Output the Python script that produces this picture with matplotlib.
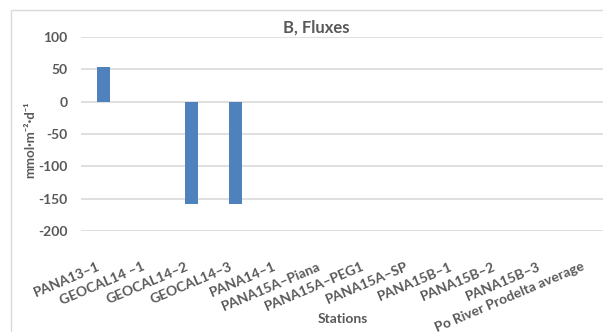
import numpy as np
import matplotlib
matplotlib.use("Agg")
import matplotlib.pyplot as plt
import matplotlib.transforms as mtransforms
from matplotlib.patches import Rectangle

plt.rcParams["font.family"] = ["Lato", "DejaVu Sans"]

# Fluxes per station (blank = no measurement)
stations = ["PANA13\u20131", "GEOCAL14 \u20131", "GEOCAL14\u20132", "GEOCAL14\u20133",
            "PANA14\u20131", "PANA15A\u2013Piana", "PANA15A\u2013PEG1", "PANA15A\u2013SP",
            "PANA15B\u20131", "PANA15B\u20132", "PANA15B\u20133", "Po River Prodelta average"]
fluxes = [54, np.nan, -158, -158, np.nan, np.nan, np.nan, np.nan,
          np.nan, np.nan, np.nan, np.nan]
yticks = [-200, -150, -100, -50, 0, 50, 100]

TXT = "#595959"
GRID = "#d9d9d9"
BAR = "#4F81BD"

W, H = 603, 332
fig = plt.figure(figsize=(W / 100, H / 100), dpi=100)

# chart frame (left and top edges visible)
fig.patches.append(Rectangle((11 / W, -0.1), 1.2, 1 - 10 / H + 0.1,
                             transform=fig.transFigure, fill=False,
                             edgecolor=GRID, linewidth=1))

left, right = 81.3 / W, 609 / W
top, bottom = 1 - 37 / H, 1 - 231 / H
ax = fig.add_axes([left, bottom, right - left, top - bottom])

x = np.arange(len(stations))
ax.bar(x, fluxes, width=0.3, color=BAR, zorder=3)

ax.set_xlim(-0.5, len(stations) - 0.5)
ax.set_ylim(-200, 100)
ax.set_yticks(yticks)
ax.set_yticklabels([str(v) for v in yticks], fontsize=10, fontweight="bold", color=TXT)
ax.yaxis.grid(True, color=GRID, linewidth=1.2, zorder=0)
ax.set_axisbelow(True)
ax.tick_params(axis="y", length=0, pad=10)
ax.tick_params(axis="x", length=0, pad=21)
for s in ax.spines.values():
    s.set_visible(False)

ax.set_xticks(x)
ax.set_xticklabels(stations, rotation=23, ha="right", va="top",
                   rotation_mode="anchor", fontsize=10, fontweight="bold", color=TXT)
# nudge the slanted station names a little to the left
shift = mtransforms.ScaledTranslation(-6 / 100, 0, fig.dpi_scale_trans)
for lbl in ax.get_xticklabels():
    lbl.set_transform(lbl.get_transform() + shift)

fig.text(316 / W, 1 - 28 / H, "B, Fluxes", ha="center", va="center",
         fontsize=12, fontweight="bold", color=TXT)
fig.text(30 / W, 1 - 140 / H, "mmol\u00b7m\u207b\u00b2\u00b7d\u207b\u00b9",
         rotation=90, ha="center", va="center",
         fontsize=9.5, fontweight="bold", color=TXT)
fig.text(343 / W, 1 - 319 / H, "Stations", ha="center", va="center",
         fontsize=10, fontweight="bold", color=TXT)

fig.savefig("out.png", dpi=100)
